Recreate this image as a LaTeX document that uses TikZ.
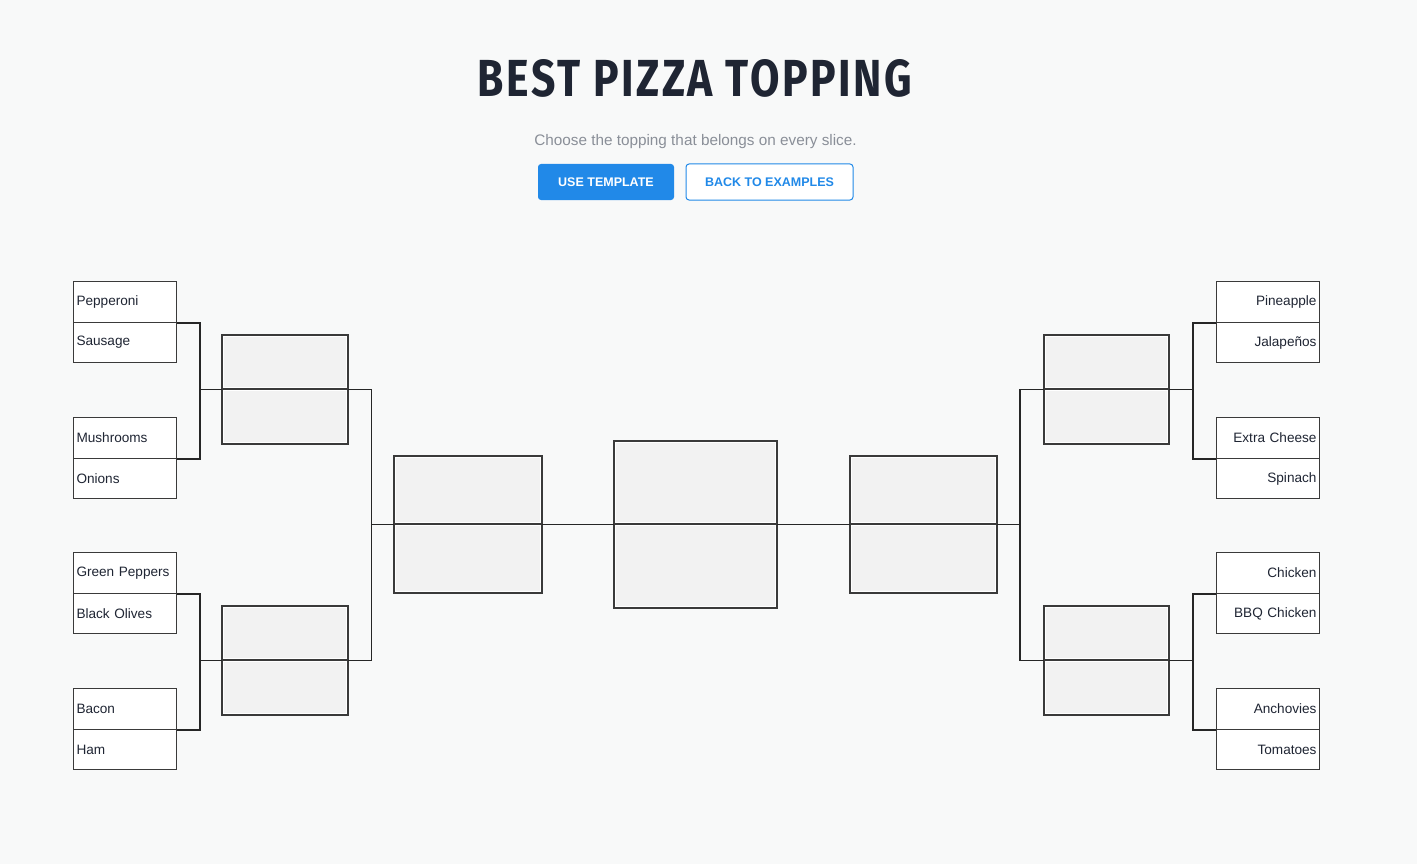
\documentclass[tikz,border=0pt]{standalone}
\usepackage{fontspec}
\setmainfont{Liberation Sans}
\newfontfamily\titlefont{Fira Sans}
\definecolor{bg}{HTML}{F8F9F9}
\definecolor{ink}{HTML}{1F2533}
\definecolor{boxline}{HTML}{3A3A3A}
\definecolor{slotgray}{HTML}{F2F2F2}
\definecolor{subgray}{HTML}{8A8F98}
\definecolor{btnblue}{HTML}{2189E8}
% name, x, ytop, width, h1, h2
\newcommand\slotpair[6]{%
  \node[slot,minimum width=#4pt,minimum height=#5pt] (#1a) at (#2,#3) {};
  \node[slot,minimum width=#4pt,minimum height=#6pt] (#1b) at (#2,#3+#5) {};
  \fill[slotgray] (#2+1.8,#3+1.8) rectangle (#2+#4-1.8,#3+#5-1.8);
  \fill[slotgray] (#2+1.8,#3+#5+1.8) rectangle (#2+#4-1.8,#3+#5+#6-1.8);
  \draw[frame] (#2,#3) rectangle (#2+#4,#3+#5+#6);
  \draw[frame] (#2,#3+#5) -- (#2+#4,#3+#5);
}
\begin{document}
\begin{tikzpicture}[x=1pt,y=-1pt,
  entry/.style={draw=boxline, fill=white, line width=1pt, minimum width=103pt,
    inner xsep=3pt, inner ysep=0pt, text width=97pt, font=\fontsize{13.6}{15}\selectfont,
    text=ink, anchor=north west},
  lentry/.style={entry, align=left},
  rentry/.style={entry, align=right},
  slot/.style={fill=white, draw=none, inner sep=0pt, anchor=north west},
  frame/.style={draw=boxline, line width=1.2pt},
  conn/.style={draw=black!85, line width=1.1pt},
  btn/.style={rounded corners=3pt, minimum height=36pt, inner sep=0pt,
    font=\fontsize{12.5}{14}\selectfont\bfseries}]
\useasboundingbox[fill=bg] (0,0) rectangle (1417,864);

% title
\node[text=ink, inner sep=0pt] (title) at (695,78.5)
  {\resizebox{434pt}{37pt}{\titlefont\addfontfeatures{LetterSpace=6}\bfseries BEST PIZZA TOPPING}};
\node[text=subgray, inner sep=0pt, font=\fontsize{15.3}{17}\selectfont] (sub) at (695.5,142)
  {Choose the topping that belongs on every slice.};
\node[btn, fill=btnblue, text=white, minimum width=136pt] (use) at (606,182) {USE TEMPLATE};
\node[btn, fill=white, draw=btnblue, line width=1pt, text=btnblue, minimum width=167pt] (back) at (769.5,182) {BACK TO EXAMPLES};

% left round 1
\node[lentry, minimum height=41pt] (e1) at (73,281) {Pepperoni};
\node[lentry, minimum height=40pt] (e2) at (73,322) {Sausage};
\node[lentry, minimum height=41pt] (e3) at (73,417) {Mushrooms};
\node[lentry, minimum height=40pt] (e4) at (73,458) {Onions};
\node[lentry, minimum height=41pt] (e5) at (73,552) {Green Peppers};
\node[lentry, minimum height=40pt] (e6) at (73,593) {Black Olives};
\node[lentry, minimum height=41pt] (e7) at (73,688) {Bacon};
\node[lentry, minimum height=40pt] (e8) at (73,729) {Ham};

% right round 1
\node[rentry, minimum height=41pt] (f1) at (1216,281) {Pineapple};
\node[rentry, minimum height=40pt] (f2) at (1216,322) {Jalapeños};
\node[rentry, minimum height=41pt] (f3) at (1216,417) {Extra Cheese};
\node[rentry, minimum height=40pt] (f4) at (1216,458) {Spinach};
\node[rentry, minimum height=41pt] (f5) at (1216,552) {Chicken};
\node[rentry, minimum height=40pt] (f6) at (1216,593) {BBQ Chicken};
\node[rentry, minimum height=41pt] (f7) at (1216,688) {Anchovies};
\node[rentry, minimum height=40pt] (f8) at (1216,729) {Tomatoes};

% slots
\slotpair{LA}{222}{335}{126}{54}{55}
\slotpair{LB}{222}{606}{126}{54}{55}
\slotpair{LC}{394}{456}{148}{68}{69}
\slotpair{C}{614}{441}{163}{83}{84}
\slotpair{RC}{850}{456}{147}{68}{69}
\slotpair{RA}{1044}{335}{125}{54}{55}
\slotpair{RB}{1044}{606}{125}{54}{55}

% left connectors
\draw[conn] (e1.south east) -- ++(23,0) |- (e3.south east);
\draw[conn] (LAa.south west) -- ++(-23,0);
\draw[conn] (e5.south east) -- ++(23,0) |- (e7.south east);
\draw[conn] (LBa.south west) -- ++(-23,0);
\draw[conn] (LAa.south east) -- ++(23,0) |- (LBa.south east);
\draw[conn] (LCa.south west) -- ++(-23,0);
\draw[conn] (LCa.south east) -- (Ca.south west);
% right connectors
\draw[conn] (Ca.south east) -- (RCa.south west);
\draw[conn] (RCa.south east) -- ++(23,0);
\draw[conn] (RAa.south west) -- ++(-24,0) |- (RBa.south west);
\draw[conn] (f1.south west) -- ++(-23,0) |- (f3.south west);
\draw[conn] (RAa.south east) -- ++(24,0);
\draw[conn] (f5.south west) -- ++(-23,0) |- (f7.south west);
\draw[conn] (RBa.south east) -- ++(24,0);
\end{tikzpicture}
\end{document}
